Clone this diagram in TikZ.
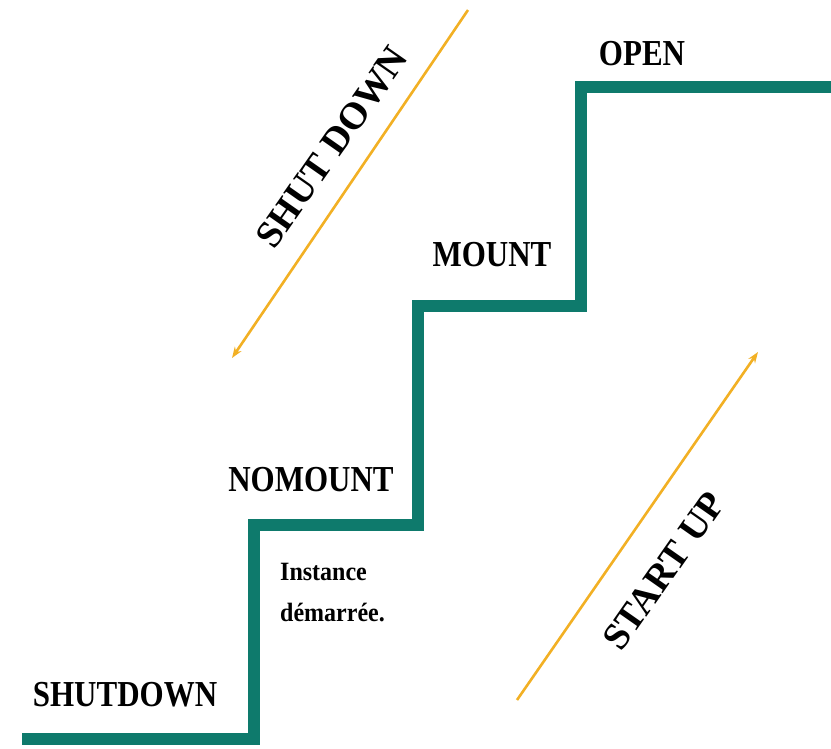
\documentclass[tikz,border=0pt]{standalone}
\usepackage{fontspec}
\setmainfont{Liberation Serif}
\usetikzlibrary{arrows.meta}
\definecolor{stair}{RGB}{14,122,108}
\definecolor{arrowc}{RGB}{242,176,36}
\tikzset{
  stairline/.style={draw=stair, line width=12pt, line join=miter},
  statelbl/.style={font=\bfseries\fontsize{31}{31}\selectfont, inner sep=0pt, yscale=1.18},
  notelbl/.style={font=\bfseries\fontsize{24}{37}\selectfont, align=left, inner sep=0pt, yscale=1.1},
  arrowline/.style={draw=arrowc, line width=2.6pt, -{Stealth[length=11pt,width=8pt]}},
  arrowlbl/.style={font=\bfseries\fontsize{38}{38}\selectfont, inner sep=0pt}
}
\begin{document}
\begin{tikzpicture}[x=1pt,y=-1pt]
\useasboundingbox (0,0) rectangle (831,748);
% staircase
\coordinate (s0) at (22,739);
\coordinate (s1) at (254,739);
\coordinate (s2) at (254,525);
\coordinate (s3) at (418,525);
\coordinate (s4) at (418,306);
\coordinate (s5) at (581,306);
\coordinate (s6) at (581,87);
\coordinate (s7) at (835,87);
\draw[stairline] (s0) -- (s1) -- (s2) -- (s3) -- (s4) -- (s5) -- (s6) -- (s7);
% state labels
\node[statelbl] (shutdown) at (125,695) {SHUTDOWN};
\node[statelbl] (nomount) at (311,480) {NOMOUNT};
\node[statelbl] (mount) at (492,255) {MOUNT};
\node[statelbl] (open) at (642,54) {OPEN};
\node[notelbl, anchor=north west] (note) at (280,563) {Instance\\démarrée.};
% shut down arrow
\coordinate (sdA) at (468,10);
\coordinate (sdB) at (232,358);
\draw[arrowline] (sdA) -- (sdB);
\node[arrowlbl, rotate=55] (sdlbl) at (332,147) {SHUT DOWN};
% start up arrow
\coordinate (suA) at (517,700);
\coordinate (suB) at (758,352);
\draw[arrowline] (suA) -- (suB);
\node[arrowlbl, rotate=55] (sulbl) at (664,571) {START UP};
\end{tikzpicture}
\end{document}
